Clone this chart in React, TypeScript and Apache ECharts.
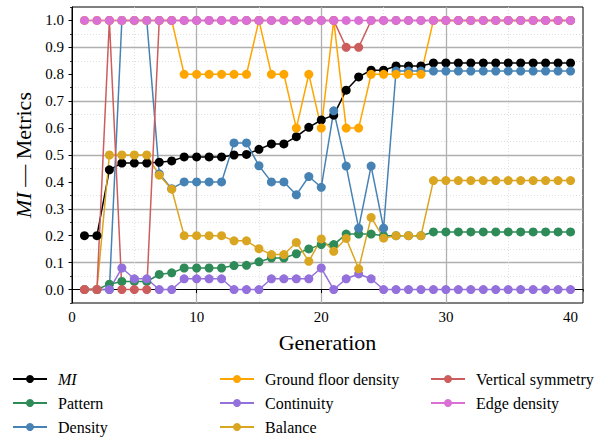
import React, { useEffect, useRef } from "react";
import * as echarts from "echarts";

const generations = Array.from({ length: 40 }, (_, i) => i + 1);

const seriesNames = [
  "MI",
  "Pattern",
  "Density",
  "Ground floor density",
  "Continuity",
  "Balance",
  "Vertical symmetry",
  "Edge density",
];

const seriesColors = [
  "#000000",
  "#2E8B57",
  "#4682B4",
  "#FFA500",
  "#9370DB",
  "#DAA520",
  "#CD5C5C",
  "#DA70D6",
];

const miValues = [
  0.2, 0.2, 0.445, 0.47, 0.47, 0.47, 0.473, 0.478, 0.493, 0.493,
  0.493, 0.493, 0.5, 0.502, 0.521, 0.541, 0.541, 0.568, 0.603, 0.63,
  0.648, 0.741, 0.79, 0.815, 0.815, 0.831, 0.831, 0.831, 0.842, 0.842,
  0.842, 0.842, 0.842, 0.842, 0.842, 0.842, 0.842, 0.842, 0.842, 0.842,
];

const patternValues = [
  0, 0, 0.02, 0.03, 0.03, 0.03, 0.056, 0.062, 0.08, 0.08,
  0.08, 0.08, 0.089, 0.09, 0.103, 0.117, 0.117, 0.133, 0.151, 0.167,
  0.167, 0.206, 0.206, 0.206, 0.2, 0.2, 0.2, 0.2, 0.214, 0.214,
  0.214, 0.214, 0.214, 0.214, 0.214, 0.214, 0.214, 0.214, 0.214, 0.214,
];

const densityValues = [
  0, 0, 0, 1, 1, 1, 0.43, 0.375, 0.4, 0.4,
  0.4, 0.4, 0.545, 0.545, 0.46, 0.4, 0.4, 0.352, 0.42, 0.38,
  0.664, 0.459, 0.228, 0.459, 0.228, 0.812, 0.812, 0.812, 0.812, 0.812,
  0.812, 0.812, 0.812, 0.812, 0.812, 0.812, 0.812, 0.812, 0.812, 0.812,
];

const groundFloorValues = [
  1, 1, 1, 1, 1, 1, 1, 1, 0.8, 0.8,
  0.8, 0.8, 0.8, 0.8, 1, 0.8, 0.8, 0.6, 0.8, 0.6,
  1, 0.6, 0.6, 0.8, 0.8, 0.8, 0.8, 0.8, 1, 1,
  1, 1, 1, 1, 1, 1, 1, 1, 1, 1,
];

const continuityValues = [
  0, 0, 0, 0.08, 0.04, 0.04, 0, 0, 0.04, 0.04,
  0.04, 0.04, 0, 0, 0, 0.04, 0.04, 0.04, 0.04, 0.08,
  0, 0.04, 0.058, 0.04, 0, 0, 0, 0, 0, 0,
  0, 0, 0, 0, 0, 0, 0, 0, 0, 0,
];

const balanceValues = [
  0, 0, 0.5, 0.5, 0.5, 0.5, 0.425, 0.373, 0.2, 0.2,
  0.2, 0.2, 0.181, 0.181, 0.152, 0.13, 0.13, 0.175, 0.105, 0.188,
  0.142, 0.19, 0.077, 0.268, 0.191, 0.2, 0.2, 0.2, 0.405, 0.405,
  0.405, 0.405, 0.405, 0.405, 0.405, 0.405, 0.405, 0.405, 0.405, 0.405,
];

const verticalSymmetryValues = [
  0, 0, 1, 0, 0, 0, 1, 1, 1, 1,
  1, 1, 1, 1, 1, 1, 1, 1, 1, 1,
  1, 0.9, 0.9, 1, 1, 1, 1, 1, 1, 1,
  1, 1, 1, 1, 1, 1, 1, 1, 1, 1,
];

const edgeDensityValues = [
  1, 1, 1, 1, 1, 1, 1, 1, 1, 1,
  1, 1, 1, 1, 1, 1, 1, 1, 1, 1,
  1, 1, 1, 1, 1, 1, 1, 1, 1, 1,
  1, 1, 1, 1, 1, 1, 1, 1, 1, 1,
];

const allValues = [
  miValues,
  patternValues,
  densityValues,
  groundFloorValues,
  continuityValues,
  balanceValues,
  verticalSymmetryValues,
  edgeDensityValues,
];

const yMajorTicks = [0, 0.1, 0.2, 0.3, 0.4, 0.5, 0.6, 0.7, 0.8, 0.9, 1.0];
const xMajorTicks = [0, 10, 20, 30, 40];

const legendColumns = [
  ["MI", "Pattern", "Density"],
  ["Ground floor density", "Continuity", "Balance"],
  ["Vertical symmetry", "Edge density"],
];

const FONT = "'Liberation Serif', serif";

export default function App() {
  const ref = useRef<HTMLDivElement>(null);

  useEffect(() => {
    document.body.style.margin = "0";
    if (!ref.current) return;
    const chart = echarts.init(ref.current, null, { renderer: "svg" });

    const series = seriesNames.map((name, i) => ({
      name,
      type: "line",
      xAxisIndex: 0,
      yAxisIndex: 0,
      data: generations.map((g, j) => [g, allValues[i][j]]),
      symbol: "circle",
      symbolSize: 9,
      showSymbol: true,
      lineStyle: { color: seriesColors[i], width: 1.5 },
      itemStyle: { color: seriesColors[i] },
      emphasis: { disabled: true },
    }));

    const legendLefts = [12, 219, 430];
    const legends = legendColumns.map((names, c) => ({
      data: names,
      left: legendLefts[c],
      top: 371,
      height: 100,
      orient: "vertical",
      itemWidth: 34,
      itemHeight: 10,
      itemGap: 8,
      padding: 0,
      selectedMode: false,
      formatter: (n: string) => (n === "MI" ? "{i|MI}" : "{n|" + n + "}"),
      textStyle: {
        fontFamily: FONT,
        fontSize: 16,
        color: "#000",
        rich: {
          i: { fontFamily: FONT, fontSize: 16, fontStyle: "italic", color: "#000", padding: [0, 0, 0, 6] },
          n: { fontFamily: FONT, fontSize: 16, color: "#000", padding: [0, 0, 0, 6] },
        },
      },
    }));

    const option = {
      animation: false,
      backgroundColor: "#fff",
      textStyle: { fontFamily: FONT, color: "#000" },
      grid: {
        left: 72,
        right: 20,
        top: 7,
        bottom: 135,
        show: true,
        borderColor: "#000",
        borderWidth: 1,
        backgroundColor: "transparent",
      },
      legend: legends,
      xAxis: [
        {
          type: "value",
          position: "bottom",
          min: 0,
          max: 41,
          interval: 10,
          name: "Generation",
          nameLocation: "middle",
          nameGap: 28,
          nameTextStyle: { fontFamily: FONT, fontSize: 22, color: "#000" },
          axisLine: { show: true, lineStyle: { color: "#000", width: 1 } },
          axisTick: {
            show: true,
            length: 3.5,
            lineStyle: { color: "#000", width: 1 },
            customValues: xMajorTicks,
          },
          axisLabel: {
            fontFamily: FONT,
            fontSize: 15,
            color: "#000",
            margin: 6,
            customValues: xMajorTicks,
            formatter: (v: number) => (v % 10 === 0 ? String(v) : ""),
          },
          splitLine: {
            show: true,
            showMinLine: false,
            showMaxLine: false,
            lineStyle: { color: "#b0b0b0", width: 1.3 },
          },
        },
        {
          type: "value",
          position: "bottom",
          min: 0,
          max: 41,
          interval: 5,
          axisLine: { show: false },
          axisLabel: { show: false },
          axisTick: { show: true, length: 2, lineStyle: { color: "#000", width: 0.8 } },
          splitLine: {
            show: true,
            showMinLine: false,
            showMaxLine: false,
            lineStyle: { color: ["#d8d8d8", "transparent"], width: 0.8, type: [1, 2] },
          },
        },
      ],
      yAxis: [
        {
          type: "value",
          position: "left",
          min: -0.05,
          max: 1.05,
          interval: 0.05,
          name: "{i|MI} — Metrics",
          nameLocation: "middle",
          nameGap: 36,
          nameRotate: 90,
          nameTextStyle: {
            fontFamily: FONT,
            fontSize: 22,
            color: "#000",
            rich: {
              i: { fontFamily: FONT, fontSize: 22, fontStyle: "italic", color: "#000" },
            },
          },
          axisLine: { show: true, lineStyle: { color: "#000", width: 1 } },
          axisTick: {
            show: true,
            length: 3.5,
            lineStyle: { color: "#000", width: 1 },
            customValues: yMajorTicks,
          },
          axisLabel: {
            fontFamily: FONT,
            fontSize: 15,
            color: "#000",
            margin: 8,
            customValues: yMajorTicks,
            formatter: (v: number) =>
              Math.abs(v * 10 - Math.round(v * 10)) < 1e-6 && v >= -1e-9 && v <= 1.0000001
                ? (Math.round(v * 10) / 10).toFixed(1)
                : "",
          },
          splitLine: {
            show: true,
            showMinLine: false,
            showMaxLine: false,
            lineStyle: { color: ["#b0b0b0", "transparent"], width: 1.3 },
          },
        },
        {
          type: "value",
          position: "left",
          min: -0.05,
          max: 1.05,
          interval: 0.05,
          axisLine: { show: false },
          axisLabel: { show: false },
          axisTick: { show: true, length: 2, lineStyle: { color: "#000", width: 0.8 } },
          splitLine: {
            show: true,
            showMinLine: false,
            showMaxLine: false,
            lineStyle: { color: ["transparent", "#d8d8d8"], width: 0.8, type: [1, 2] },
          },
        },
      ],
      series,
    };

    chart.setOption(option as any);
    return () => chart.dispose();
  }, []);

  return <div ref={ref} style={{ width: 603, height: 438 }} />;
}
